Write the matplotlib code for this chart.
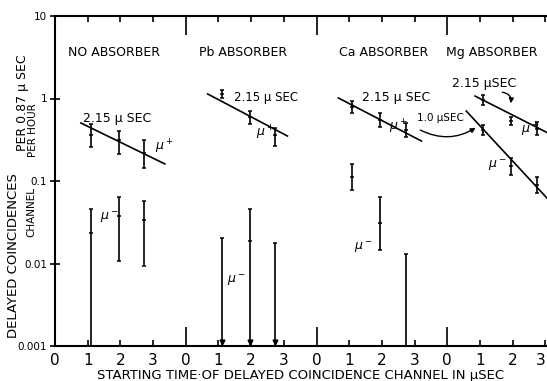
import matplotlib
matplotlib.use("Agg")
import matplotlib.pyplot as plt
from matplotlib.ticker import FixedLocator, FixedFormatter

panels = ["NO ABSORBER", "Pb ABSORBER", "Ca ABSORBER", "Mg ABSORBER"]
channel_t = [1.1, 1.95, 2.73]

# mu+ bars: lower end, centre mark, upper end
plus_lo = [[0.26, 0.21, 0.144], [1.01, 0.49, 0.265], [0.667, 0.452, 0.341], [0.834, 0.477, 0.36]]
plus_mid = [[0.36, 0.31, 0.22], [1.13, 0.597, 0.36], [0.79, 0.55, 0.415], [0.96, 0.53, 0.43]]
plus_hi = [[0.49, 0.40, 0.31], [1.27, 0.705, 0.44], [0.933, 0.667, 0.505], [1.10, 0.597, 0.52]]

# mu- bars (0.001 = runs off the bottom)
minus_lo = [[0.001, 0.0107, 0.0093], [0.001, 0.001, 0.001], [0.0778, 0.0146, 0.001], [0.361, 0.118, 0.0716]]
minus_mid = [[0.0234, 0.0377, 0.0336], [None, 0.0187, None], [0.112, 0.031, None], [0.42, 0.15, 0.09]]
minus_hi = [[0.0458, 0.064, 0.0573], [0.0204, 0.0458, 0.0177], [0.161, 0.064, 0.013], [0.477, 0.19, 0.112]]
arrow_down = [[False, False, False], [True, True, True], [False, False, False], [False, False, False]]

# fitted decay lines
fit_panel = [0, 1, 2, 3, 3]
fit_t = [[0.79, 3.36], [0.67, 3.11], [0.67, 3.21], [0.85, 3.3], [0.58, 3.3]]
fit_v = [[0.505, 0.161], [1.135, 0.351], [1.014, 0.305], [1.07, 0.345], [0.705, 0.0485]]

ytick_vals = [0.001, 0.01, 0.1, 1, 10]
ytick_lbls = ["0.001", "0.01", "0.1", "1", "10"]

FONT = ["Liberation Sans Narrow", "DejaVu Sans"]
plt.rcParams["font.family"] = FONT

fig = plt.figure(figsize=(5.47, 3.81), dpi=100)
ax = fig.add_axes([55 / 547, 1 - 346 / 381, 1 - 55 / 547, (346 - 16) / 381])
ax.set_yscale("log")
ax.set_ylim(0.001, 10)
ax.set_xlim(0, 15.05)

for p in range(4):
    x = [4 * p + t for t in channel_t]
    for lo, mid, hi in [(plus_lo[p], plus_mid[p], plus_hi[p]), (minus_lo[p], minus_mid[p], minus_hi[p])]:
        ax.vlines(x, lo, hi, color="k", lw=1.2)
        ax.plot(x, hi, ls="none", marker="_", ms=3, mew=1.1, color="k")
        ax.plot(x, lo, ls="none", marker="_", ms=3, mew=1.1, color="k")
        xm = [xx for xx, m in zip(x, mid) if m is not None]
        ym = [m for m in mid if m is not None]
        ax.plot(xm, ym, ls="none", marker="_", ms=3, mew=1.1, color="k")
    xa = [xx for xx, a in zip(x, arrow_down[p]) if a]
    ax.plot(xa, [0.00112] * len(xa), ls="none", marker="v", ms=3.5, color="k")

for p, t, v in zip(fit_panel, fit_t, fit_v):
    ax.plot([4 * p + tt for tt in t], v, color="k", lw=1.2)

# panel titles
for p, name, dx in zip(range(4), panels, [0.4, 0.42, 0.69, -0.05]):
    ax.text(4 * p + dx, 3.66, name, fontsize=9, ha="left", va="center")

# lifetime labels
ax.text(0.85, 0.58, "2.15 μ SEC", fontsize=9, va="center")
ax.text(5.49, 1.04, "2.15 μ SEC", fontsize=8.5, va="center")
ax.text(9.39, 1.04, "2.15 μ SEC", fontsize=9, va="center")
ax.text(12.13, 1.54, "2.15 μSEC", fontsize=9, va="center")
ax.text(11.07, 0.58, "1.0 μSEC", fontsize=7.5, va="center")
ax.annotate("", xy=(13.93, 0.81), xytext=(13.6, 1.2),
            arrowprops=dict(arrowstyle="-|>", color="k", lw=1, mutation_scale=7,
                            connectionstyle="arc3,rad=-0.6"))
ax.annotate("", xy=(12.94, 0.46), xytext=(11.1, 0.43),
            arrowprops=dict(arrowstyle="-|>", color="k", lw=1, mutation_scale=7,
                            connectionstyle="arc3,rad=0.3"))

# muon labels
for x, y, s in [(3.05, 0.258, "$\\mu^+$"), (6.16, 0.38, "$\\mu^+$"), (10.21, 0.45, "$\\mu^+$"),
                (14.24, 0.415, "$\\mu^+$"), (1.37, 0.0366, "$\\mu^-$"), (5.27, 0.0063, "$\\mu^-$"),
                (9.15, 0.0158, "$\\mu^-$"), (13.26, 0.156, "$\\mu^-$")]:
    ax.text(x, y, s, fontsize=9, ha="left", va="center")

# axes styling
ax.spines["right"].set_visible(False)
for s in ["left", "top", "bottom"]:
    ax.spines[s].set_linewidth(1.5)
ax.yaxis.set_major_locator(FixedLocator(ytick_vals))
ax.yaxis.set_major_formatter(FixedFormatter(ytick_lbls))
ax.yaxis.set_minor_locator(FixedLocator([]))
ax.tick_params(axis="y", direction="inout", length=7, width=1.2, labelsize=7.5, pad=2)

ax.xaxis.set_major_locator(FixedLocator([0, 4, 8, 12]))
ax.xaxis.set_major_formatter(FixedFormatter(["0", "0", "0", "0"]))
minor_x = [1, 2, 3, 5, 6, 7, 9, 10, 11, 13, 14, 15]
ax.xaxis.set_minor_locator(FixedLocator(minor_x))
ax.xaxis.set_minor_formatter(FixedFormatter(["1", "2", "3"] * 4))
ax.tick_params(axis="x", which="major", direction="in", length=14, width=1.2,
               top=True, labelsize=11, pad=5)
ax.tick_params(axis="x", which="minor", direction="in", length=4, width=1.2,
               top=True, labelsize=11, pad=5)
ax.set_xlabel("STARTING TIME·OF DELAYED COINCIDENCE CHANNEL IN μSEC", fontsize=9.5, labelpad=1)

# last "3" sits at the clipped right edge: keep it whole
fig.canvas.draw()
ax.xaxis.get_minor_ticks()[-1].label1.set_horizontalalignment("right")

# y label pieces
fig.text(14 / 547, 1 - 256 / 381, "DELAYED COINCIDENCES", rotation=90, fontsize=9.5,
         ha="center", va="center")
fig.text(23 / 547, 1 - 103 / 381, "PER 0.87 μ SEC", rotation=90, fontsize=9,
         ha="center", va="center")
fig.text(31 / 547, 1 - 212 / 381, "CHANNEL", rotation=90, fontsize=7.5,
         ha="center", va="center")
fig.text(33 / 547, 1 - 130 / 381, "PER HOUR", rotation=90, fontsize=7.5,
         ha="center", va="center")

fig.savefig("out.png", dpi=100)
